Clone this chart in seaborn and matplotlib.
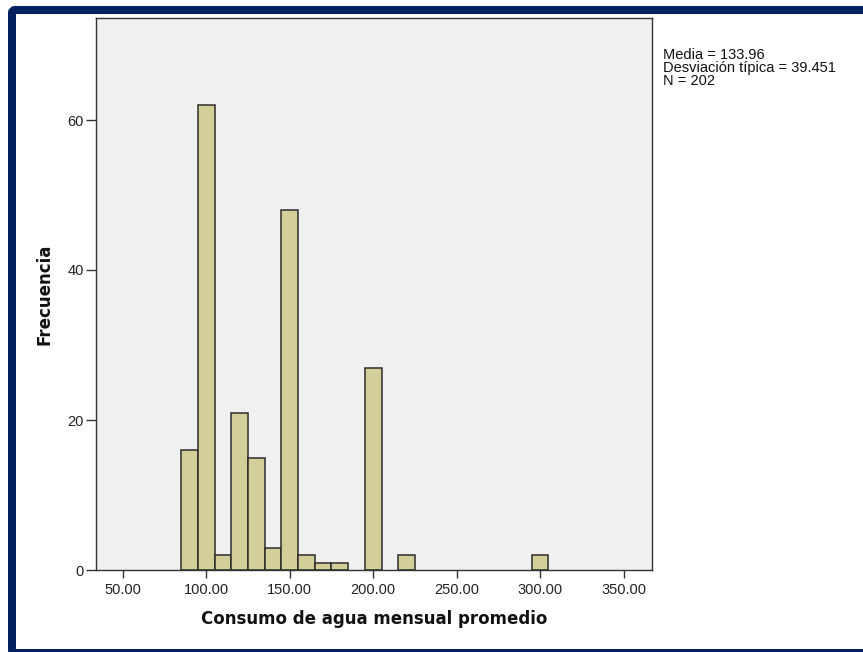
import pandas as pd
import matplotlib
matplotlib.use("Agg")
import matplotlib.pyplot as plt
from matplotlib.patches import FancyBboxPatch
import seaborn as sns

# Monthly water consumption: bin centers and frequencies (bins 10 units wide)
consumo = [90, 100, 110, 120, 130, 140, 150, 160, 170, 180, 200, 220, 300]
frecuencia = [16, 62, 2, 21, 15, 3, 48, 2, 1, 1, 27, 2, 2]

x_ticks = [50, 100, 150, 200, 250, 300, 350]
y_ticks = [0, 20, 40, 60]
stats_lines = ["Media = 133.96", "Desviación típica = 39.451", "N = 202"]

df = pd.DataFrame({"consumo": consumo, "frecuencia": frecuencia})

sns.set_style("white", {"axes.facecolor": "#f0f0f0", "axes.edgecolor": "#333333"})
plt.rcParams["font.family"] = ["Liberation Sans", "DejaVu Sans"]

fig = plt.figure(figsize=(8.63, 6.52), dpi=100)
ax = fig.add_axes([96 / 863, 82 / 652, 556 / 863, 552 / 652])

sns.histplot(data=df, x="consumo", weights="frecuencia", binwidth=10,
             binrange=(85, 305), ax=ax, color="#d3cf98", edgecolor="#2b2b2b",
             linewidth=1.1, alpha=1.0)

# Empty bins are left undrawn
for bar in ax.patches:
    if bar.get_height() == 0:
        bar.set_visible(False)

ax.set_xlim(34, 367)
ax.set_ylim(0, 73.6)
ax.set_xticks(x_ticks)
ax.set_xticklabels([f"{v:.2f}" for v in x_ticks])
ax.set_yticks(y_ticks)
ax.tick_params(axis="x", bottom=True, direction="out", length=6, width=1,
               pad=3.5, colors="#333333", labelsize=10.5, labelcolor="#222222")
ax.tick_params(axis="y", left=True, direction="out", length=7, width=1,
               pad=2, colors="#333333", labelsize=10.5, labelcolor="#222222")
for s in ax.spines.values():
    s.set_color("#333333")
    s.set_linewidth(1.0)

ax.set_xlabel("Consumo de agua mensual promedio", fontsize=12, fontweight="bold",
              family=["DejaVu Sans"], labelpad=9.5, color="#111111")
ax.set_ylabel("Frecuencia", fontsize=12, fontweight="bold",
              family=["DejaVu Sans"], labelpad=9.5, color="#111111")

fig.text(663 / 863, 1 - 48 / 652, "\n".join(stats_lines), fontsize=10.5,
         va="top", ha="left", linespacing=0.9, color="#111111")

# Navy frame around the output
frame = FancyBboxPatch((0.12, -0.01), 8.8, 6.43,
                       boxstyle="round,pad=0,rounding_size=0.03",
                       transform=fig.dpi_scale_trans, facecolor="none",
                       edgecolor="#03215f", linewidth=5.76, clip_on=False)
fig.add_artist(frame)

fig.savefig("out.png", dpi=100)
